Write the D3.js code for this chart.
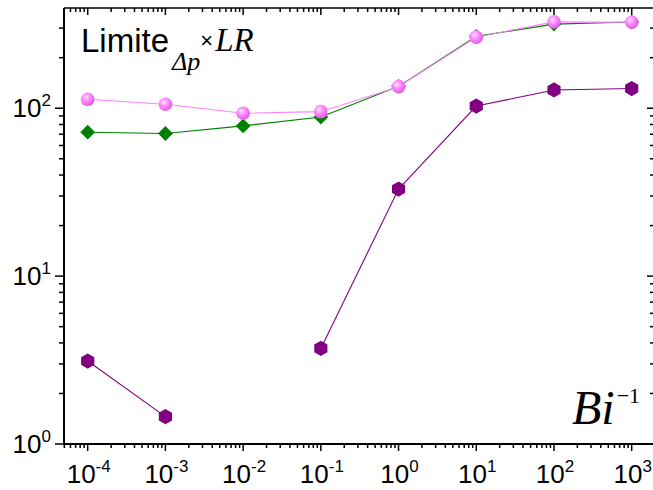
<!DOCTYPE html>
<html>
<head>
<meta charset="utf-8">
<script src="https://cdn.jsdelivr.net/npm/d3@7/dist/d3.min.js"></script>
<style>
  html, body { margin: 0; padding: 0; background: #fff; }
  svg { display: block; }
</style>
</head>
<body>
<svg id="chart" width="653" height="490"></svg>
<script>
// ---- data ----
const xValues = [1e-4, 1e-3, 1e-2, 1e-1, 1, 10, 100, 1000];
const pinkSeries = [113, 105.6, 93.3, 95.4, 134.4, 265, 327, 325];
const greenSeries = [72, 70.7, 78.5, 88.6, 135, 268, 317, 326];
const purpleSeries = [3.12, 1.455, null, 3.71, 33, 103, 128.5, 131];
const xTickExponents = [-4, -3, -2, -1, 0, 1, 2, 3];
const yTickExponents = [0, 1, 2];

const svg = d3.select("#chart");
const L = 64, R = 654, T = 8, B = 444;

const x = d3.scaleLog().domain([Math.pow(10, -4.305), Math.pow(10, 3.287)]).range([L, R]);
const y = d3.scaleLog().domain([1, Math.pow(10, 2.597)]).range([B, T]);

const defs = svg.append("defs");
const grad = defs.append("radialGradient").attr("id", "sphere")
  .attr("cx", "38%").attr("cy", "35%").attr("r", "65%");
grad.append("stop").attr("offset", "0%").attr("stop-color", "#ffe6ff");
grad.append("stop").attr("offset", "45%").attr("stop-color", "#ff88ff");
grad.append("stop").attr("offset", "100%").attr("stop-color", "#e060e0");

function logTicks(scale) {
  const [a, b] = scale.domain();
  const out = [];
  for (let e = Math.floor(Math.log10(a)) - 1; e <= Math.ceil(Math.log10(b)); e++) {
    for (let m = 1; m <= 9; m++) {
      const v = m * Math.pow(10, e);
      if (v >= a * 0.9999 && v <= b * 1.0001) out.push({ v, major: m === 1 });
    }
  }
  return out;
}
const xt = logTicks(x), yt = logTicks(y);

const axes = svg.append("g").attr("stroke", "#000").attr("fill", "none");
xt.forEach(t => {
  const px = x(t.v);
  axes.append("line").attr("x1", px).attr("x2", px).attr("y1", B).attr("y2", B + (t.major ? 7 : 4)).attr("stroke-width", 1.5);
  axes.append("line").attr("x1", px).attr("x2", px).attr("y1", T).attr("y2", T + (t.major ? 7 : 4)).attr("stroke-width", 1.5);
});
yt.forEach(t => {
  const py = y(t.v);
  axes.append("line").attr("x1", L).attr("x2", L - (t.major ? 9 : 5)).attr("y1", py).attr("y2", py).attr("stroke-width", 1.5);
  axes.append("line").attr("x1", R).attr("x2", R - (t.major ? 7 : 4)).attr("y1", py).attr("y2", py).attr("stroke-width", 1.5);
});
axes.append("line").attr("x1", L).attr("x2", R).attr("y1", B).attr("y2", B).attr("stroke-width", 2);
axes.append("line").attr("x1", L).attr("x2", R).attr("y1", T).attr("y2", T).attr("stroke-width", 1.5);
axes.append("line").attr("x1", L).attr("x2", L).attr("y1", T).attr("y2", B + 1).attr("stroke-width", 2);
axes.append("line").attr("x1", R).attr("x2", R).attr("y1", T).attr("y2", B).attr("stroke-width", 1.5);

// tick labels
const labFont = "Liberation Sans, Arial, sans-serif";
xTickExponents.forEach(e => {
  const t = svg.append("text").attr("x", x(Math.pow(10, e)) + 1).attr("y", B + 39)
    .attr("text-anchor", "middle").attr("font-family", labFont).attr("font-size", 26).attr("fill", "#000");
  t.append("tspan").text("10");
  t.append("tspan").attr("font-size", 17).attr("dy", -11).text(e < 0 ? "-" + (-e) : String(e));
});
yTickExponents.forEach(e => {
  const t = svg.append("text").attr("x", 51).attr("y", y(Math.pow(10, e)) + 9)
    .attr("text-anchor", "end").attr("font-family", labFont).attr("font-size", 26).attr("fill", "#000");
  t.append("tspan").text("10");
  t.append("tspan").attr("font-size", 17).attr("dy", -11).text(String(e));
});

// series
const line = d3.line().defined(d => d[1] != null).x(d => x(d[0])).y(d => y(d[1]));
function pts(arr) { return xValues.map((v, i) => [v, arr[i]]); }

function drawLine(arr, color) {
  svg.append("path").datum(pts(arr)).attr("d", line).attr("fill", "none")
    .attr("stroke", color).attr("stroke-width", 1.1);
}
const diamond = d3.symbol().type(d3.symbolSquare).size(110);

drawLine(greenSeries, "#008000");
svg.append("g").selectAll("path").data(pts(greenSeries).filter(d => d[1] != null)).join("path")
  .attr("d", diamond)
  .attr("transform", d => `translate(${x(d[0])},${y(d[1])}) rotate(45)`)
  .attr("fill", "#008000");

drawLine(pinkSeries, "#ff80ff");
svg.append("g").selectAll("circle").data(pts(pinkSeries).filter(d => d[1] != null)).join("circle")
  .attr("cx", d => x(d[0])).attr("cy", d => y(d[1])).attr("r", 6.8)
  .attr("fill", "url(#sphere)");

drawLine(purpleSeries, "#800080");
const hexR = 7.6;
const hexPts = d3.range(6).map(i => {
  const a = Math.PI / 180 * (60 * i - 90);
  return [hexR * Math.cos(a), hexR * Math.sin(a)];
});
svg.append("g").selectAll("polygon").data(pts(purpleSeries).filter(d => d[1] != null)).join("polygon")
  .attr("points", hexPts.map(p => p.join(",")).join(" "))
  .attr("transform", d => `translate(${x(d[0])},${y(d[1])})`)
  .attr("fill", "#800080");

// annotations
const serif = "Liberation Serif, Times New Roman, serif";
const title = svg.append("text").attr("x", 81).attr("y", 52).attr("fill", "#000")
  .attr("font-family", labFont).attr("font-size", 33);
title.append("tspan").text("Limite");
title.append("tspan").attr("font-family", serif).attr("font-style", "italic").attr("font-size", 26).attr("dy", 18).attr("dx", 3).text("Δp");
title.append("tspan").attr("font-size", 22).attr("dy", -22).text("×");
title.append("tspan").attr("font-family", serif).attr("font-style", "italic").attr("font-size", 33).attr("dy", 3).attr("dx", 2).text("LR");

const bi = svg.append("text").attr("x", 572).attr("y", 424).attr("fill", "#000")
  .attr("font-family", serif).attr("font-size", 48);
bi.append("tspan").attr("font-style", "italic").text("Bi");
bi.append("tspan").attr("font-size", 22).attr("dy", -21).attr("dx", 2).text("−1");
</script>
</body>
</html>
